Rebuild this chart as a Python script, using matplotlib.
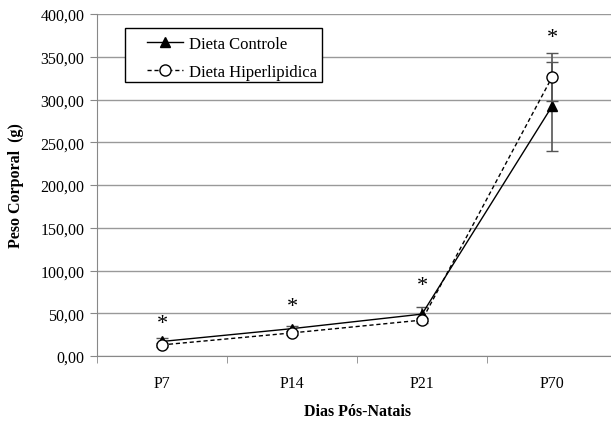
import matplotlib
matplotlib.use("Agg")
import matplotlib.pyplot as plt
from matplotlib.ticker import FuncFormatter
from matplotlib.lines import Line2D
from matplotlib.patches import Rectangle
import numpy as np

categories = ["P7", "P14", "P21", "P70"]
controle = [17, 32, 49, 292]
controle_err = [4, 3, 8, 52]
hiper = [13, 27, 42, 326]
hiper_err = [2, 2, 3, 28]
asterisk_y = [38, 58, 83, 372]
series_labels = ["Dieta Controle", "Dieta Hiperlipidica"]

plt.rcParams['font.family'] = ['Liberation Serif', 'DejaVu Serif']

W, H = 611, 427
fig = plt.figure(figsize=(W / 100, H / 100), dpi=100)
ax = fig.add_axes([97/W, 1-357/H, 520/W, (357-15)/H])

x = np.arange(len(categories))
ax.errorbar(x, controle, yerr=controle_err, color='black', lw=1.0, marker='^',
            ms=7, mfc='black', mec='black', ecolor='#555555', elinewidth=1.2,
            capsize=4, capthick=1.0, zorder=3)
ax.errorbar(x, hiper, yerr=hiper_err, color='black', lw=1.0, ls='--', marker='o',
            ms=8, mfc='white', mec='black', ecolor='#555555', elinewidth=1.2,
            capsize=4, capthick=1.0, zorder=4, dashes=(3, 2))

for xi, yi in zip(x, asterisk_y):
    ax.text(xi, yi, "*", ha='center', va='center', fontsize=16)

ax.set_xlim(-0.5, len(categories) - 0.5)
ax.set_ylim(0, 400)
ax.set_yticks(np.arange(0, 401, 50))
ax.yaxis.set_major_formatter(FuncFormatter(lambda v, p: f"{v:.2f}".replace('.', ',')))
ax.set_xticks(x)
ax.set_xticklabels(categories)
ax.set_xticks(np.arange(-0.5, len(categories), 1), minor=True)
ax.tick_params(axis='x', which='major', length=0, pad=14, labelsize=11.5)
ax.tick_params(axis='x', which='minor', length=5, color='#888888')
ax.tick_params(axis='y', length=5, color='#888888', labelsize=11.5, pad=4)

ax.grid(axis='y', color='#999999', lw=1.0)
ax.set_axisbelow(True)
for s in ['top', 'right']:
    ax.spines[s].set_visible(False)
for s in ['left', 'bottom']:
    ax.spines[s].set_color('#888888')

ax.set_ylabel("Peso Corporal  (g)", fontweight='bold', fontsize=11.5, labelpad=12)
ax.set_xlabel("Dias Pós-Natais", fontweight='bold', fontsize=11.5, labelpad=8)

# legend frame drawn separately for exact padding
frame = Rectangle((125/W, 1-83/H), 197/W, 54/H, transform=fig.transFigure,
                  facecolor='white', edgecolor='black', lw=1.0, zorder=5)
fig.add_artist(frame)

handles = [
    Line2D([], [], color='black', lw=1.0, marker='^', ms=7, mfc='black', mec='black'),
    Line2D([], [], color='black', lw=1.0, ls='--', dashes=(3, 2), marker='o', ms=8,
           mfc='white', mec='black'),
]
leg = fig.legend(handles, series_labels, loc='upper left',
                 bbox_to_anchor=(147/W, 1-37/H), borderaxespad=0,
                 frameon=False, fontsize=12,
                 handlelength=2.15, handletextpad=0.35, borderpad=0, labelspacing=0.72)
leg.set_zorder(6)

fig.savefig("out.png", dpi=100)
